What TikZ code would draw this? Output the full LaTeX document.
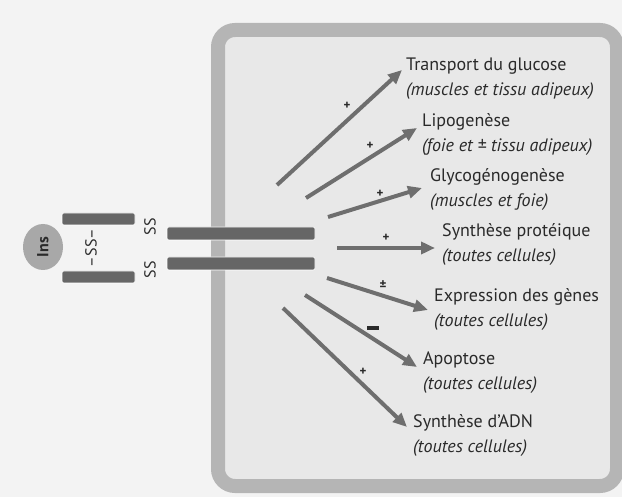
\documentclass[tikz,border=0pt]{standalone}
\usepackage{fontspec}
\setmainfont{PT Sans}
\usetikzlibrary{arrows.meta,shapes.geometric}
\definecolor{bg}{HTML}{F3F3F3}
\definecolor{cellfill}{HTML}{E8E8E8}
\definecolor{cellborder}{HTML}{B5B5B5}
\definecolor{bar}{HTML}{666666}
\definecolor{arrowc}{HTML}{6E6E6E}
\definecolor{insc}{HTML}{A8A8A8}
\definecolor{txt}{HTML}{2A2A2A}
\tikzset{
  chain/.style={fill=bar, rounded corners=2pt, draw=white, line width=0.6pt},
  effect/.style={draw=arrowc, line width=4pt, -{Triangle[length=14pt,width=12pt]}},
  sign/.style={font=\bfseries\fontsize{13}{13}\selectfont, text=txt, inner sep=0pt},
  lbl/.style={align=left, anchor=west, text=txt, font=\fontsize{18}{25}\selectfont, inner sep=0pt},
  sslbl/.style={rotate=90, text=txt, font=\fontsize{16}{16}\selectfont, inner sep=0pt},
}
\begin{document}
\begin{tikzpicture}[x=1pt,y=-1pt]
\useasboundingbox (0,0) rectangle (622,497);
\fill[bg] (0,0) rectangle (622,497);
% cell with its membrane
\draw[cellborder, fill=cellfill, line width=14pt, rounded corners=17pt] (218,30) rectangle (617,486);
% insulin
\node[ellipse, fill=insc, minimum width=40pt, minimum height=46pt, inner sep=0pt] (ins) at (43,247) {};
\node[rotate=90, font=\bfseries\fontsize{16}{16}\selectfont, text=txt] at (ins) {Ins};
\path[chain] (62,213) rectangle (135,225);
\path[chain] (62,271) rectangle (135,283);
\node[sslbl] (ssmid) at (91,248) {–SS–};
\node[sslbl] at (150,227) {SS};
\node[sslbl] at (150,270) {SS};
% receptor chains
\path[chain] (167,227) rectangle (315,240);
\path[chain] (167,257) rectangle (315,270);
% effects
\coordinate (s1) at (277,185); \coordinate (e1) at (402,70);
\coordinate (s2) at (306,198); \coordinate (e2) at (417,128);
\coordinate (s3) at (328,217); \coordinate (e3) at (422,188);
\coordinate (s4) at (337,248); \coordinate (e4) at (435,248);
\coordinate (s5) at (327,278); \coordinate (e5) at (428,310);
\coordinate (s6) at (305,295); \coordinate (e6) at (417,367);
\coordinate (s7) at (283,308); \coordinate (e7) at (407,427);
\foreach \i in {1,...,7} \draw[effect] (s\i) -- (e\i);
\node[sign] at (347,106) {+};
\node[sign] at (370,146) {+};
\node[sign] at (380,194) {+};
\node[sign] at (386,238) {+};
\node[sign] at (383,285) {±};
\fill[txt] (367,326) rectangle (379,330);
\node[sign] at (363,372) {+};
% labels
\node[lbl] (t1) at (406,79) {Transport du glucose\\\textit{(muscles et tissu adipeux)}};
\node[lbl] (t2) at (422,135) {Lipogenèse\\\textit{(foie et ± tissu adipeux)}};
\node[lbl] (t3) at (430,190) {Glycogénogenèse\\\textit{(muscles et foie)}};
\node[lbl] (t4) at (442,245) {Synthèse protéique\\\textit{(toutes cellules)}};
\node[lbl] (t5) at (434,310) {Expression des gènes\\\textit{(toutes cellules)}};
\node[lbl] (t6) at (423,373) {Apoptose\\\textit{(toutes cellules)}};
\node[lbl] (t7) at (413,436) {Synthèse d’ADN\\\textit{(toutes cellules)}};
\end{tikzpicture}
\end{document}
